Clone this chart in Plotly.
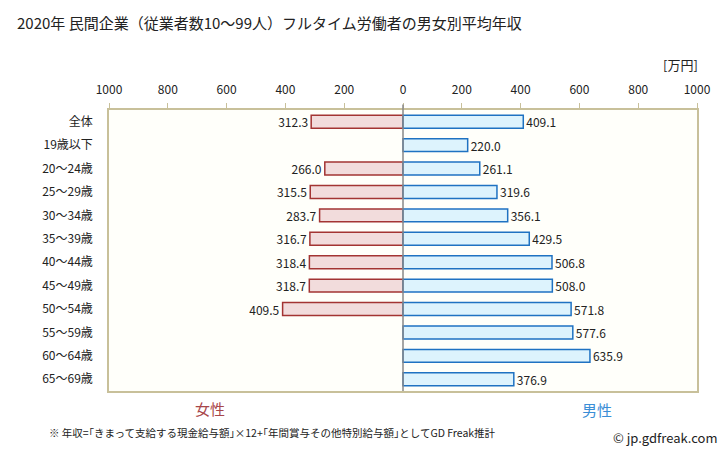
import plotly.graph_objects as go

categories = ["全体", "19歳以下", "20～24歳", "25～29歳", "30～34歳", "35～39歳", "40～44歳",
              "45～49歳", "50～54歳", "55～59歳", "60～64歳", "65～69歳"]
female = [312.3, None, 266.0, 315.5, 283.7, 316.7, 318.4, 318.7, 409.5, None, None, None]
male = [409.1, 220.0, 261.1, 319.6, 356.1, 429.5, 506.8, 508.0, 571.8, 577.6, 635.9, 376.9]
tick_vals = [-1000, -800, -600, -400, -200, 0, 200, 400, 600, 800, 1000]
tick_text = ["1000", "800", "600", "400", "200", "0", "200", "400", "600", "800", "1000"]

W, H = 728, 451
L, R, T, B = 109, 31, 110, 60
PW, PH = W - L - R, H - T - B
FONT = "Noto Sans CJK JP"


def px(x):
    return (x - L) / PW


def py(y):
    return 1 - (y - T) / PH


fig = go.Figure()
fig.add_trace(go.Bar(
    y=categories, x=[-v if v is not None else None for v in female], orientation="h",
    marker=dict(color="#f2dcdc", line=dict(color="#a33433", width=1.5)),
    text=[f"{v:.1f}" if v is not None else "" for v in female],
    textposition="outside", constraintext="none",
    textfont=dict(size=12, color="#222222", family=FONT),
    cliponaxis=False, width=0.55, hoverinfo="skip"))
fig.add_trace(go.Bar(
    y=categories, x=male, orientation="h",
    marker=dict(color="#ddf3fd", line=dict(color="#1f72c2", width=1.5)),
    text=[f"{v:.1f}" for v in male],
    textposition="outside", constraintext="none",
    textfont=dict(size=12, color="#222222", family=FONT),
    cliponaxis=False, width=0.55, hoverinfo="skip"))

fig.update_layout(
    width=W, height=H, margin=dict(l=L, r=R, t=T, b=B, autoexpand=False),
    barmode="overlay", showlegend=False, uniformtext=dict(minsize=12, mode="show"),
    paper_bgcolor="white", plot_bgcolor="#fffffa",
    font=dict(family=FONT, size=12, color="#222222"),
    xaxis=dict(range=[-1000, 1000], side="top", tickvals=tick_vals, ticktext=tick_text,
               showgrid=False, zeroline=False, ticks="outside", ticklen=5,
               tickcolor="#c8c09a", tickfont=dict(size=12, color="#222222"),
               showline=True, linecolor="#c8c09a", mirror=True, linewidth=1.5,
               fixedrange=True, ticklabelstandoff=4, automargin=False),
    yaxis=dict(autorange="reversed", showgrid=False, zeroline=False,
               showline=True, linecolor="#c8c09a", mirror=True, linewidth=1.5,
               ticks="", tickfont=dict(size=12, color="#222222"), ticklabelstandoff=12,
               fixedrange=True, automargin=False),
)

fig.add_shape(type="line", xref="x", yref="paper", x0=0, x1=0, y0=0, y1=1.02,
              line=dict(color="#888888", width=1.5))

ann = [
    dict(x=px(15), y=py(22), text="2020年 民間企業（従業者数10～99人）フルタイム労働者の男女別平均年収",
         xanchor="left", font=dict(size=15, color="#222222")),
    dict(x=px(700), y=py(65), text="[万円]", xanchor="right", font=dict(size=13, color="#222222")),
    dict(x=px(210), y=py(408), text="女性", xanchor="center", font=dict(size=15, color="#a8464a")),
    dict(x=px(597), y=py(409), text="男性", xanchor="center", font=dict(size=15, color="#3a8ed6")),
    dict(x=px(47), y=py(432), text="※ 年収=｢きまって支給する現金給与額｣×12+｢年間賞与その他特別給与額｣としてGD Freak推計",
         xanchor="left", font=dict(size=10.5, color="#222222")),
    dict(x=px(720), y=py(437), text="© jp.gdfreak.com", xanchor="right", font=dict(size=13, color="#222222")),
]
for a in ann:
    fig.add_annotation(xref="paper", yref="paper", yanchor="middle", showarrow=False, **a)

fig.write_html("out.html", config={"displayModeBar": False},
               post_script="document.body.style.margin='0';document.body.style.overflow='hidden';")
